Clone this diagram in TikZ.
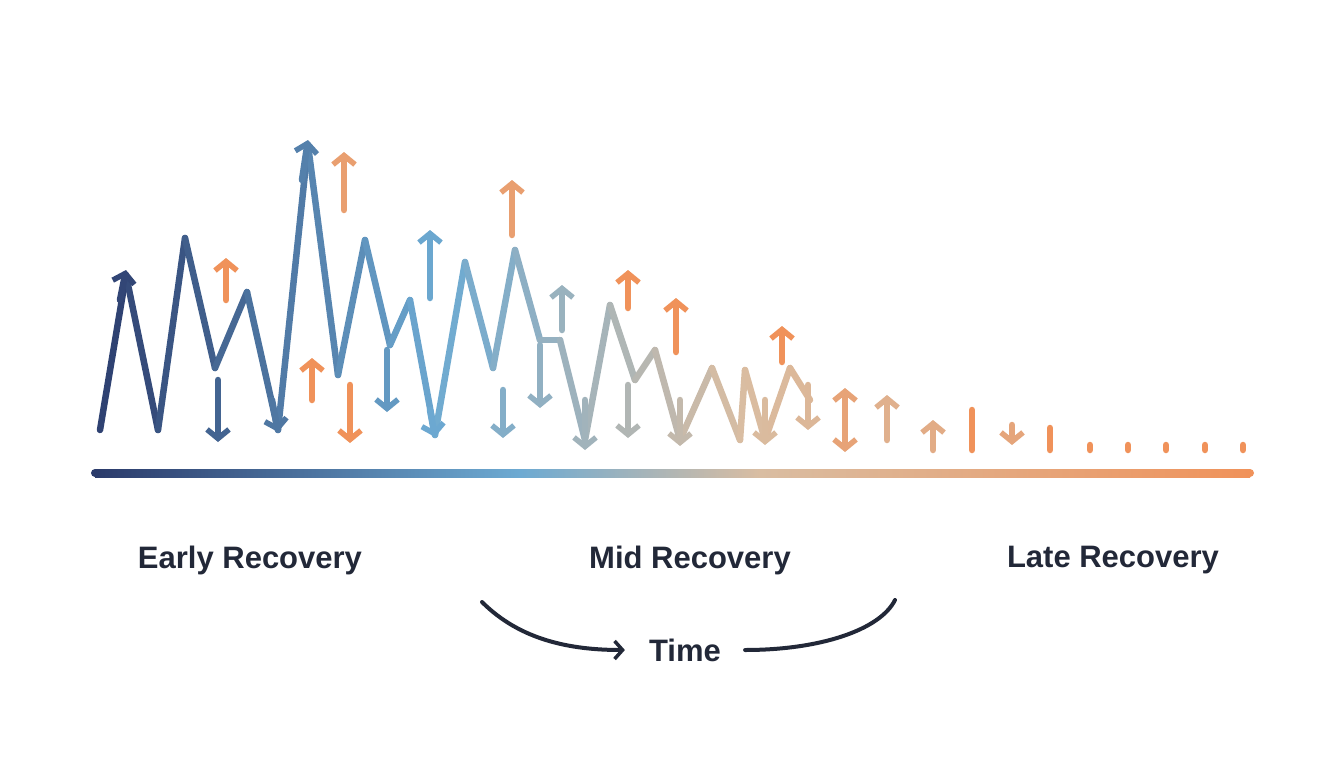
\documentclass[tikz,border=0pt]{standalone}
\usepackage{fontspec}
\setmainfont{Liberation Sans}
\usetikzlibrary{arrows.meta}
\definecolor{cA}{HTML}{2B3B6B}
\definecolor{cB}{HTML}{6DAAD2}
\definecolor{cC}{HTML}{D9BDA2}
\definecolor{cD}{HTML}{F0925A}
\definecolor{ink}{HTML}{222838}
\newcommand\setcurcol[1]{%
 \pgfmathsetmacro\px{#1}%
 \ifdim\px pt<440pt \pgfmathsetmacro\pp{max(0,min(100,(\px-90)/350*100))}\colorlet{cur}{cB!\pp!cA}%
 \else\ifdim\px pt<740pt \pgfmathsetmacro\pp{(\px-440)/300*100}\colorlet{cur}{cC!\pp!cB}%
 \else \pgfmathsetmacro\pp{min(100,(\px-740)/500*100)}\colorlet{cur}{cD!\pp!cC}\fi\fi}
\begin{document}
\begin{tikzpicture}[x=1pt,y=-1pt,
  zz/.style={line width=6.5pt,line cap=round,line join=round},
  arr/.style={line width=6.5pt,line cap=round,-{Straight Barb[length=9pt,width=22pt,line width=5.5pt]}},
  lbl/.style={font=\fontsize{31}{36}\selectfont\bfseries,text=ink}]
\useasboundingbox[fill=white] (0,0) rectangle (1344,768);
% zigzag
\foreach \xa/\ya/\xb/\yb in {100/430/126/275,126/275/158/430,158/430/185/238,185/238/215/368,215/368/247/292,247/292/278/430,278/430/308/145,308/145/338/375,338/375/365/240,365/240/390/345,390/345/410/300,410/300/435/435,435/435/465/262,465/262/493/368,493/368/515/250,515/250/540/340,540/340/560/340,560/340/585/440,585/440/610/305,610/305/635/380,635/380/655/350,655/350/680/440,680/440/712/368,712/368/740/440,740/440/745/370,745/370/765/440,765/440/790/368,790/368/810/400}{
  \setcurcol{(\xa+\xb)/2}
  \draw[zz,cur] (\xa,\ya) coordinate (p) -- (\xb,\yb) coordinate (q);
}
% arrowheads on zigzag
\foreach \xa/\ya/\xb/\yb in {120/300/126/270,272/400/278/432,302/180/308/140,430/410/435/437}{
  \setcurcol{\xb}
  \draw[arr,cur] (\xa,\ya) coordinate (s) -- (\xb,\yb) coordinate (e);
}
% separate arrows
\foreach \x/\ya/\yb in {226/300/258,218/380/442,312/400/358,350/385/443,344/210/152,387/350/412,430/298/230,503/390/438,512/235/180,540/345/408,562/330/285,585/400/450,628/308/270,628/385/438,676/352/298,680/400/446,765/400/445,782/362/326,808/385/430,887/440/395,933/450/420,1012/425/445}{
  \setcurcol{\x}
  \ifnum\x=344 \colorlet{cur}{cD!70!cC}\fi
  \ifnum\x=512 \colorlet{cur}{cD!70!cC}\fi
  \ifnum\x=226 \colorlet{cur}{cD}\fi
  \ifnum\x=312 \colorlet{cur}{cD}\fi
  \ifnum\x=350 \colorlet{cur}{cD}\fi
  \ifnum\x=628 \ifnum\ya=308 \colorlet{cur}{cD}\fi\fi
  \ifnum\x=676 \colorlet{cur}{cD}\fi
  \ifnum\x=782 \colorlet{cur}{cD}\fi
  \draw[arr,cur] (\x,\ya) coordinate (s) -- (\x,\yb) coordinate (e);
}
\draw[line width=6.5pt,line cap=round,{Straight Barb[length=9pt,width=22pt,line width=5.5pt]}-{Straight Barb[length=9pt,width=22pt,line width=5.5pt]},cD!60!cC] (845,388) coordinate (d1) -- (845,452) coordinate (d2);
\draw[zz,cD] (972,410) coordinate (b1) -- (972,450) coordinate (b2);
\draw[zz,cD] (1050,428) coordinate (b3) -- (1050,450) coordinate (b4);
\foreach \x in {1090,1128,1166,1205,1243}{\draw[zz,cD] (\x,445) coordinate (t1) -- (\x,450) coordinate (t2);}
% axis
\shade[left color=cA,right color=cB] (95,469) rectangle (520,477);
\shade[left color=cB,right color=cC] (520,469) rectangle (760,477);
\shade[left color=cC,right color=cD] (760,469) rectangle (1250,477);
\fill[cA] (95,473) circle (4);
\fill[cD] (1250,473) circle (4);
% labels
\node[lbl] (early) at (250,560) {Early Recovery};
\node[lbl] (mid) at (690,560) {Mid Recovery};
\node[lbl] (late) at (1113,560) {Late Recovery};
\node[lbl,inner xsep=24pt] (time) at (685,650) {Time};
\coordinate (l1) at (482,602);
\coordinate (r1) at (895,600);
\draw[ink,line width=4pt,line cap=round,-{Straight Barb[length=8pt,width=18pt,line width=3.5pt]}] (l1) .. controls (520,640) and (570,650) .. (time.west);
\draw[ink,line width=4pt,line cap=round] (time.east) .. controls (820,650) and (880,630) .. (r1);
\end{tikzpicture}
\end{document}
